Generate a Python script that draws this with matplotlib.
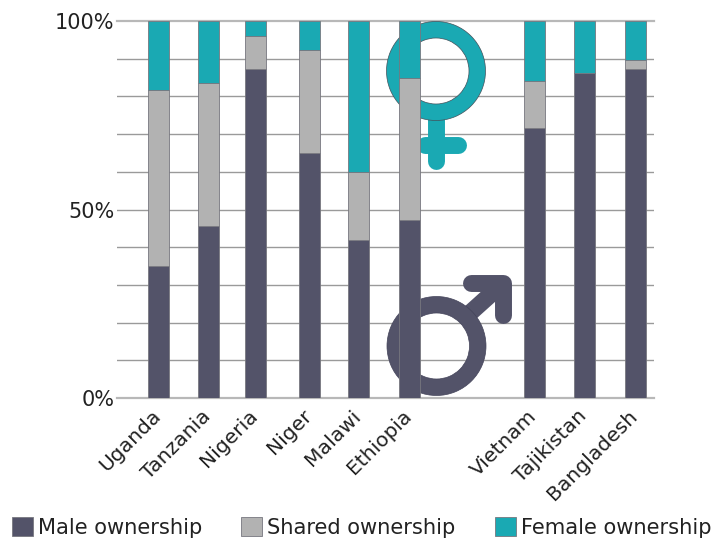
import numpy as np
import matplotlib
matplotlib.use('Agg')
import matplotlib.pyplot as plt
from matplotlib.patches import Wedge
from matplotlib.transforms import Affine2D

countries = ['Uganda', 'Tanzania', 'Nigeria', 'Niger', 'Malawi', 'Ethiopia',
             'Vietnam', 'Tajikistan', 'Bangladesh']
male = [35, 45.5, 87.2, 65.1, 42, 47.2, 71.7, 86.2, 87.3]
shared = [46.8, 38.1, 8.7, 27.1, 18, 37.8, 12.5, 0, 2.4]
female = [18.2, 16.4, 4.1, 7.8, 40, 15, 15.8, 13.8, 10.3]

ytick_pos = list(range(0, 101, 10))
ytick_text = ['0%', '', '', '', '', '50%', '', '', '', '', '100%']

# x axis runs in pixels of the picture, the bars are not evenly spaced
bar_x = [158.5, 208.5, 255.5, 309.5, 358.5, 409.5, 534, 584.5, 635]
bar_w = 21

c_male = '#535369'
c_shared = '#b2b2b2'
c_female = '#1aa9b3'

fig = plt.figure(figsize=(7.13, 5.38), dpi=100)
ax = fig.add_axes([117/713, (538-398)/538, 537/713, 377/538])
ax.set_xlim(117, 654)
ax.set_ylim(0, 100)

for s in ax.spines.values():
    s.set_visible(False)

for y in ytick_pos:
    if y == 0 or y == 100:
        ax.axhline(y, color='#b8b8b8', lw=1.6, zorder=1, clip_on=False)
    else:
        ax.axhline(y, color='#9a9a9a', lw=1.0, zorder=1)

# gender symbols sit behind the bars, drawn in picture pixels
px = Affine2D().scale(1, -1).translate(0, 538)


def stroke(col, x, y):
    ax.plot(x, y, color=col, lw=12.2, solid_capstyle='round', solid_joinstyle='round',
            transform=px, zorder=2, clip_on=False)


stroke(c_female, [436, 436], [118, 161])
stroke(c_female, [425, 458], [144.5, 144.5])
ax.add_patch(Wedge((436, 71), 49.5, 0, 360, width=16.5, facecolor=c_female, edgecolor='#44505a',
                   lw=0.5, transform=px, zorder=2))

stroke(c_male, [470, 500], [313, 286])
stroke(c_male, [471, 502.5, 502.5], [283, 283, 315])
ax.add_patch(Wedge((436.5, 346), 49.5, 0, 360, width=16.5, facecolor=c_male, edgecolor='#44445a',
                   lw=0.5, transform=px, zorder=2))

male_arr = np.array(male)
shared_arr = np.array(shared)
bar_kw = dict(width=bar_w, edgecolor='#77777f', linewidth=0.6, zorder=3)
ax.bar(bar_x, male, color=c_male, label='Male ownership', **bar_kw)
ax.bar(bar_x, shared, bottom=male_arr, color=c_shared, label='Shared ownership', **bar_kw)
ax.bar(bar_x, female, bottom=male_arr + shared_arr, color=c_female, label='Female ownership', **bar_kw)

ax.set_yticks(ytick_pos)
ax.set_yticklabels(ytick_text, fontsize=15, color='#222222')
ax.set_xticks(bar_x)
ax.set_xticklabels(countries, rotation=45, ha='right', rotation_mode='anchor', fontsize=14.6, color='#222222')
ax.tick_params(axis='both', length=0)
ax.tick_params(axis='y', pad=2)
ax.tick_params(axis='x', pad=6)

for lab in ax.get_xticklabels():
    lab.set_transform(lab.get_transform() + Affine2D().translate(-7.5, 0))

leg = fig.legend(loc='lower left', bbox_to_anchor=(12/713, 0), ncols=3, frameon=False, fontsize=15.1,
                 handlelength=1, handleheight=1, handletextpad=0.25, columnspacing=1.85,
                 borderpad=0, borderaxespad=0)
for t in leg.get_texts():
    t.set_color('#222222')

fig.savefig('out.png', dpi=100)
